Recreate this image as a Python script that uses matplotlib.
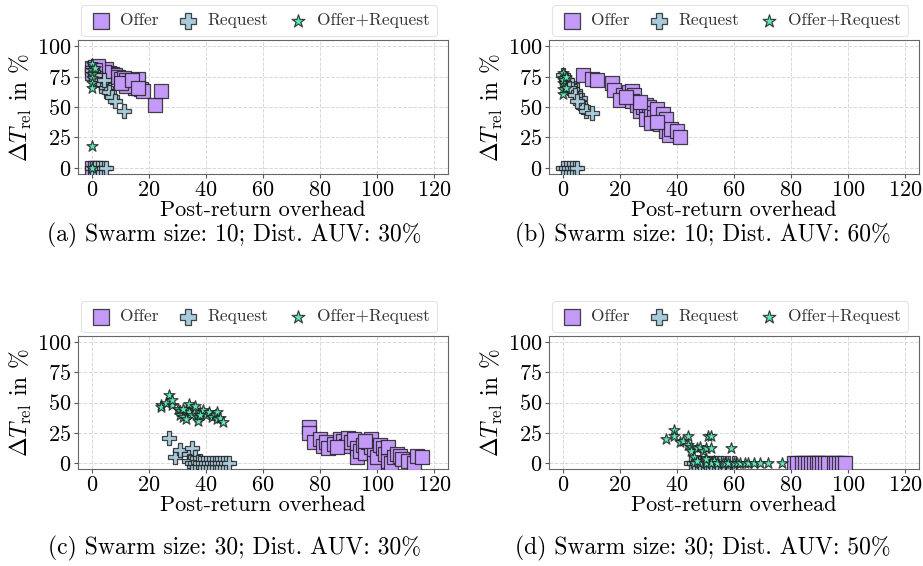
import matplotlib
matplotlib.use("Agg")
import matplotlib.pyplot as plt
import numpy as np

plt.rcParams['font.family'] = 'serif'
plt.rcParams['font.serif'] = ['cmr10', 'DejaVu Serif']
plt.rcParams['mathtext.fontset'] = 'cm'
plt.rcParams['axes.unicode_minus'] = False
plt.rcParams['axes.formatter.use_mathtext'] = True

# ---------------- data ----------------
# Panel (a): Swarm size 10; Dist. AUV 30%
a_offer_x = [0, 1, 2, 3, 5, 6, 7, 8, 9, 10, 11, 12, 13, 14, 15, 16, 17, 18, 12, 10, 14, 16, 22, 24, 4, 2, 1, 0, 0, 1]
a_offer_y = [82, 83, 82, 80, 81, 78, 77, 76, 75, 73, 74, 72, 70, 68, 66, 73, 65, 63, 67, 70, 72, 66, 52, 63, 79, 84, 80, 78, 0, 0]
a_req_x = [0, 1, 2, 3, 3, 4, 5, 5, 6, 7, 8, 11, 2, 1, 4, 0, 1, 2, 3, 4, 5]
a_req_y = [80, 78, 75, 72, 70, 68, 66, 63, 62, 58, 55, 47, 73, 76, 72, 0, 0, 0, 0, 0, 0]
a_both_x = [0, 0, 0, 0, 0, 0, 0, 1, 0]
a_both_y = [85, 80, 77, 74, 70, 66, 18, 82, 0]

# Panel (b): Swarm size 10; Dist. AUV 60%
b_offer_x = [7, 10, 12, 17, 18, 21, 20, 23, 24, 25, 24, 26, 27, 28, 29, 30, 29, 31, 32, 33, 31, 34, 35, 36, 36, 37, 38, 40, 41, 33, 27, 22]
b_offer_y = [76, 73, 72, 70, 64, 60, 56, 62, 63, 60, 55, 52, 47, 50, 52, 50, 40, 45, 42, 48, 37, 36, 44, 40, 30, 27, 32, 30, 25, 38, 54, 58]
b_req_x = [0, 1, 2, 3, 4, 5, 6, 6, 7, 8, 10, 3, 2, 4, 5, 0, 1, 2, 3, 4, 5]
b_req_y = [76, 72, 70, 68, 63, 60, 57, 53, 50, 47, 45, 65, 66, 60, 55, 0, 0, 0, 0, 0, 0]
b_both_x = [0, 0, 0, 0, 0, 1, 0, 1]
b_both_y = [78, 74, 70, 65, 61, 66, 72, 75]

# Panel (c): Swarm size 30; Dist. AUV 30%
c_offer_x = [76, 76, 78, 80, 81, 82, 83, 85, 87, 88, 89, 90, 91, 92, 93, 93, 94, 95, 96, 97, 98, 98, 99, 99, 100,
             101, 102, 103, 104, 104, 105, 106, 107, 108, 109, 111, 113, 114, 116, 96, 86]
c_offer_y = [30, 25, 17, 20, 14, 17, 12, 16, 20, 18, 14, 21, 17, 20, 12, 5, 10, 15, 8, 17, 20, 13, 7, 0, 5,
             15, 12, 7, 2, 13, 0, 5, 7, 6, 3, 2, 0, 6, 5, 18, 13]
c_req_x = [27, 29, 31, 34, 35, 34, 36, 38, 35, 36, 37, 38, 39, 40, 41, 42, 43, 44, 45, 46, 47, 48]
c_req_y = [21, 5, 11, 7, 12, 2, 5, 2, 0, 0, 1, 0, 0, 0, 0, 0, 0, 0, 0, 0, 0, 0]
c_both_x = [24, 24, 26, 27, 28, 28, 30, 31, 31, 32, 33, 34, 34, 35, 36, 37, 37, 38, 39, 40, 41, 42, 43, 44, 44,
            45, 46, 32, 36, 38, 33]
c_both_y = [48, 46, 50, 56, 48, 52, 45, 43, 40, 38, 44, 42, 49, 40, 44, 38, 35, 42, 44, 40, 42, 38, 40, 42, 36,
            37, 34, 45, 47, 40, 36]

# Panel (d): Swarm size 30; Dist. AUV 50%
d_offer_x = [81, 82, 84, 85, 86, 87, 88, 89, 90, 91, 92, 93, 95, 96, 97, 98, 99]
d_offer_y = [0] * 17
d_req_x = [45, 46, 47, 48, 49, 50, 51, 52, 53, 54, 55, 56, 58, 60]
d_req_y = [0] * 14
d_both_x = [36, 39, 39, 41, 42, 44, 44, 45, 45, 46, 47, 48, 49, 50, 51, 52, 52, 53, 59, 46, 48, 50, 52, 54, 56,
            57, 58, 60, 61, 62, 64, 65, 67, 69, 72, 77, 47, 50]
d_both_y = [20, 27, 22, 17, 18, 22, 15, 13, 10, 5, 12, 13, 10, 12, 22, 22, 12, 2, 12, 0, 0, 0, 0, 0, 0,
            0, 0, 0, 0, 0, 0, 0, 0, 0, 0, 0, 2, 3]

panels = [
    (a_offer_x, a_offer_y, a_req_x, a_req_y, a_both_x, a_both_y, "(a) Swarm size: 10; Dist. AUV: 30%"),
    (b_offer_x, b_offer_y, b_req_x, b_req_y, b_both_x, b_both_y, "(b) Swarm size: 10; Dist. AUV: 60%"),
    (c_offer_x, c_offer_y, c_req_x, c_req_y, c_both_x, c_both_y, "(c) Swarm size: 30; Dist. AUV: 30%"),
    (d_offer_x, d_offer_y, d_req_x, d_req_y, d_both_x, d_both_y, "(d) Swarm size: 30; Dist. AUV: 50%"),
]
labels = ["Offer", "Request", "Offer+Request"]
colors = ["#c49af8", "#a9cadb", "#5de8b5"]
markers = ["s", "P", "*"]
sizes = [100, 95, 70]

W, H = 923, 566
fig = plt.figure(figsize=(W / 100, H / 100), dpi=100)

# axes rectangles in pixels: (left, top, right, bottom)
rects = [(78, 40, 448, 174), (549, 40, 919, 174), (78, 336, 448, 469), (549, 336, 919, 469)]
cap_pos = [(234, 235), (703, 235), (234, 548), (703, 548)]

for (ox, oy, rx, ry, bx, by, cap), (l, t, r, b), (cx, cy) in zip(panels, rects, cap_pos):
    ax = fig.add_axes([l / W, 1 - b / H, (r - l) / W, (b - t) / H])
    for (xs, ys), lab, c, m, s in zip([(ox, oy), (rx, ry), (bx, by)], labels, colors, markers, sizes):
        ax.scatter(xs, ys, s=s, marker=m, facecolor=c, edgecolor=(0.1, 0.1, 0.1, 0.8),
                   linewidth=0.9, label=lab, zorder=3)
    ax.set_xlim(-5, 125)
    ax.set_ylim(-5, 105)
    ax.set_xticks([0, 20, 40, 60, 80, 100, 120])
    ax.set_yticks([0, 25, 50, 75, 100])
    ax.tick_params(labelsize=16, length=3, color='#555555', pad=2)
    ax.grid(True, linestyle='--', color='#d8d8d8', linewidth=0.7)
    ax.set_axisbelow(True)
    for sp in ax.spines.values():
        sp.set_color('#666666')
    ax.set_xlabel("Post-return overhead", fontsize=16, labelpad=0)
    ax.set_ylabel(r"$\Delta T_{\mathrm{rel}}$ in %", fontsize=17, labelpad=2)
    leg = ax.legend(loc='lower center', bbox_to_anchor=(0.49, 1.03), ncol=3, fontsize=12.5,
                    markerscale=1.15, frameon=True, fancybox=True, handletextpad=0.4,
                    columnspacing=1.0, borderpad=0.45, borderaxespad=0, handlelength=1.4)
    leg.get_frame().set_edgecolor('#dddddd')
    leg.get_frame().set_linewidth(0.8)
    for txt in leg.get_texts():
        txt.set_color('#333333')
    fig.text(cx / W, 1 - cy / H, cap, ha='center', va='center', fontsize=17)

fig.savefig("out.png", dpi=100)
